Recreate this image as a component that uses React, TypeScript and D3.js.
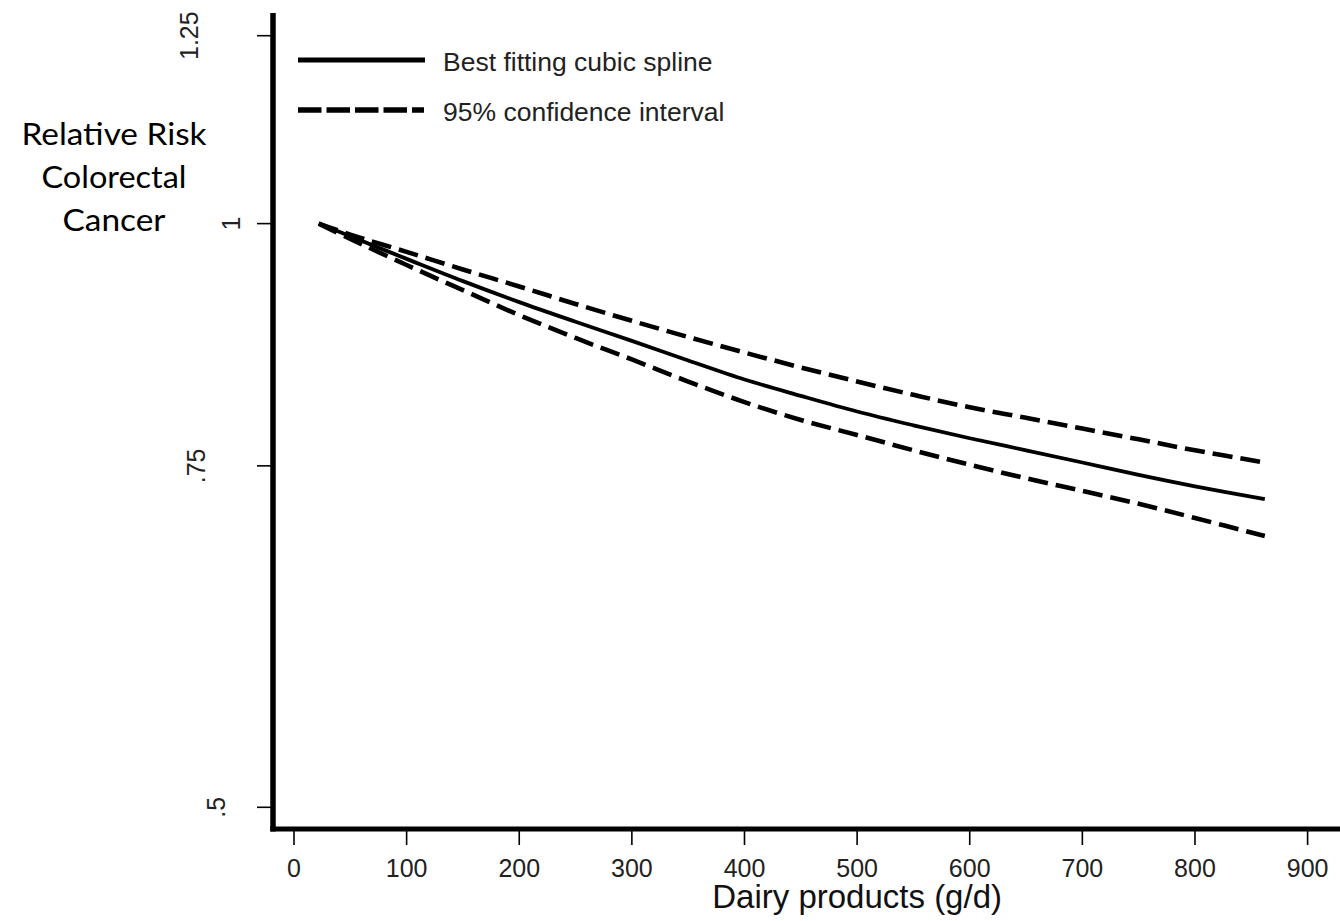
import React from "react";
import * as d3 from "d3";

const dairyGrams = [22, 50, 100, 150, 200, 250, 300, 350, 400, 450, 500, 550, 600, 650, 700, 750, 800, 862];
const splineRR = [1.0, 0.985, 0.959, 0.934, 0.911, 0.890, 0.870, 0.850, 0.831, 0.815, 0.800, 0.787, 0.775, 0.764, 0.753, 0.742, 0.732, 0.721];
const upperRR = [1.0, 0.987, 0.967, 0.947, 0.928, 0.909, 0.891, 0.874, 0.858, 0.843, 0.829, 0.816, 0.804, 0.794, 0.784, 0.774, 0.764, 0.753];
const lowerRR = [1.0, 0.982, 0.952, 0.924, 0.897, 0.873, 0.851, 0.829, 0.809, 0.792, 0.778, 0.764, 0.751, 0.739, 0.728, 0.717, 0.705, 0.690];

const xTicks = [0, 100, 200, 300, 400, 500, 600, 700, 800, 900];
const yTicks = [0.5, 0.75, 1, 1.25];
const yTickLabels = [".5", ".75", "1", "1.25"];

const legendLabels = ["Best fitting cubic spline", "95% confidence interval"];
const xTitle = "Dairy products (g/d)";
const yTitleLines = ["Relative Risk", "Colorectal", "Cancer"];

// layout (style) constants
const yLabelBaselineX: Record<string, number> = { ".5": 225, ".75": 205, "1": 240, "1.25": 198 };
const yTitleWidths = [185, 145, 103];

export default function App() {
  const W = 1340, H = 921;
  const x = d3.scaleLinear().domain([0, 900]).range([294, 1307.6]);
  const y = d3.scaleLog().domain([0.5, 1.25]).range([807.3, 35.7]);
  const axisX = 273;
  const axisY = 829;

  const mk = (vals: number[]) =>
    d3.line<number>()
      .x((_, i) => x(dairyGrams[i]))
      .y((v) => y(v))
      .curve(d3.curveCatmullRom.alpha(0.5))(vals) as string;

  const font = "'Liberation Sans', Arial, sans-serif";

  return (
    <svg width={W} height={H} style={{ position: "absolute", left: 0, top: 0, background: "#fff" }}>
      <rect x={0} y={0} width={W} height={H} fill="#fff" />
      {/* y title */}
      {yTitleLines.map((t, i) => (
        <text key={t} x={114} y={145 + i * 43} textAnchor="middle" fontFamily="Lato, 'Open Sans', sans-serif"
          fontSize={30} fill="#000" textLength={yTitleWidths[i]} lengthAdjust="spacingAndGlyphs">{t}</text>
      ))}
      {/* curves */}
      <path d={mk(upperRR)} fill="none" stroke="#000" strokeWidth={4.6} strokeDasharray="20 8" />
      <path d={mk(lowerRR)} fill="none" stroke="#000" strokeWidth={4.6} strokeDasharray="20 8" />
      <path d={mk(splineRR)} fill="none" stroke="#000" strokeWidth={3.8} />
      {/* axes */}
      <line x1={axisX} x2={axisX} y1={13} y2={axisY + 2.5} stroke="#000" strokeWidth={5.5} />
      <line x1={axisX - 2.75} x2={W} y1={axisY} y2={axisY} stroke="#000" strokeWidth={5} />
      {yTicks.map((v, i) => (
        <g key={v}>
          <line x1={257} x2={axisX} y1={y(v)} y2={y(v)} stroke="#000" strokeWidth={1.6} />
          <text transform={`translate(${yLabelBaselineX[yTickLabels[i]]},${y(v)}) rotate(-90)`} textAnchor="middle"
            fontFamily={font} fontSize={25} fill="#222">{yTickLabels[i]}</text>
        </g>
      ))}
      {xTicks.map((v) => (
        <g key={v}>
          <line x1={x(v)} x2={x(v)} y1={axisY} y2={845} stroke="#000" strokeWidth={1.6} />
          <text x={x(v)} y={877} textAnchor="middle" fontFamily={font} fontSize={25} fill="#222">{v}</text>
        </g>
      ))}
      <text x={x(500)} y={908} textAnchor="middle" fontFamily={font} fontSize={33} fill="#111">{xTitle}</text>
      {/* legend */}
      <line x1={298} x2={425} y1={60} y2={60} stroke="#000" strokeWidth={5} />
      <line x1={298} x2={424} y1={110} y2={110} stroke="#000" strokeWidth={5.5} strokeDasharray="23.5 5" />
      {legendLabels.map((t, i) => (
        <text key={t} x={443} y={71 + i * 50} fontFamily={font} fontSize={26.5} fill="#222">{t}</text>
      ))}
    </svg>
  );
}
